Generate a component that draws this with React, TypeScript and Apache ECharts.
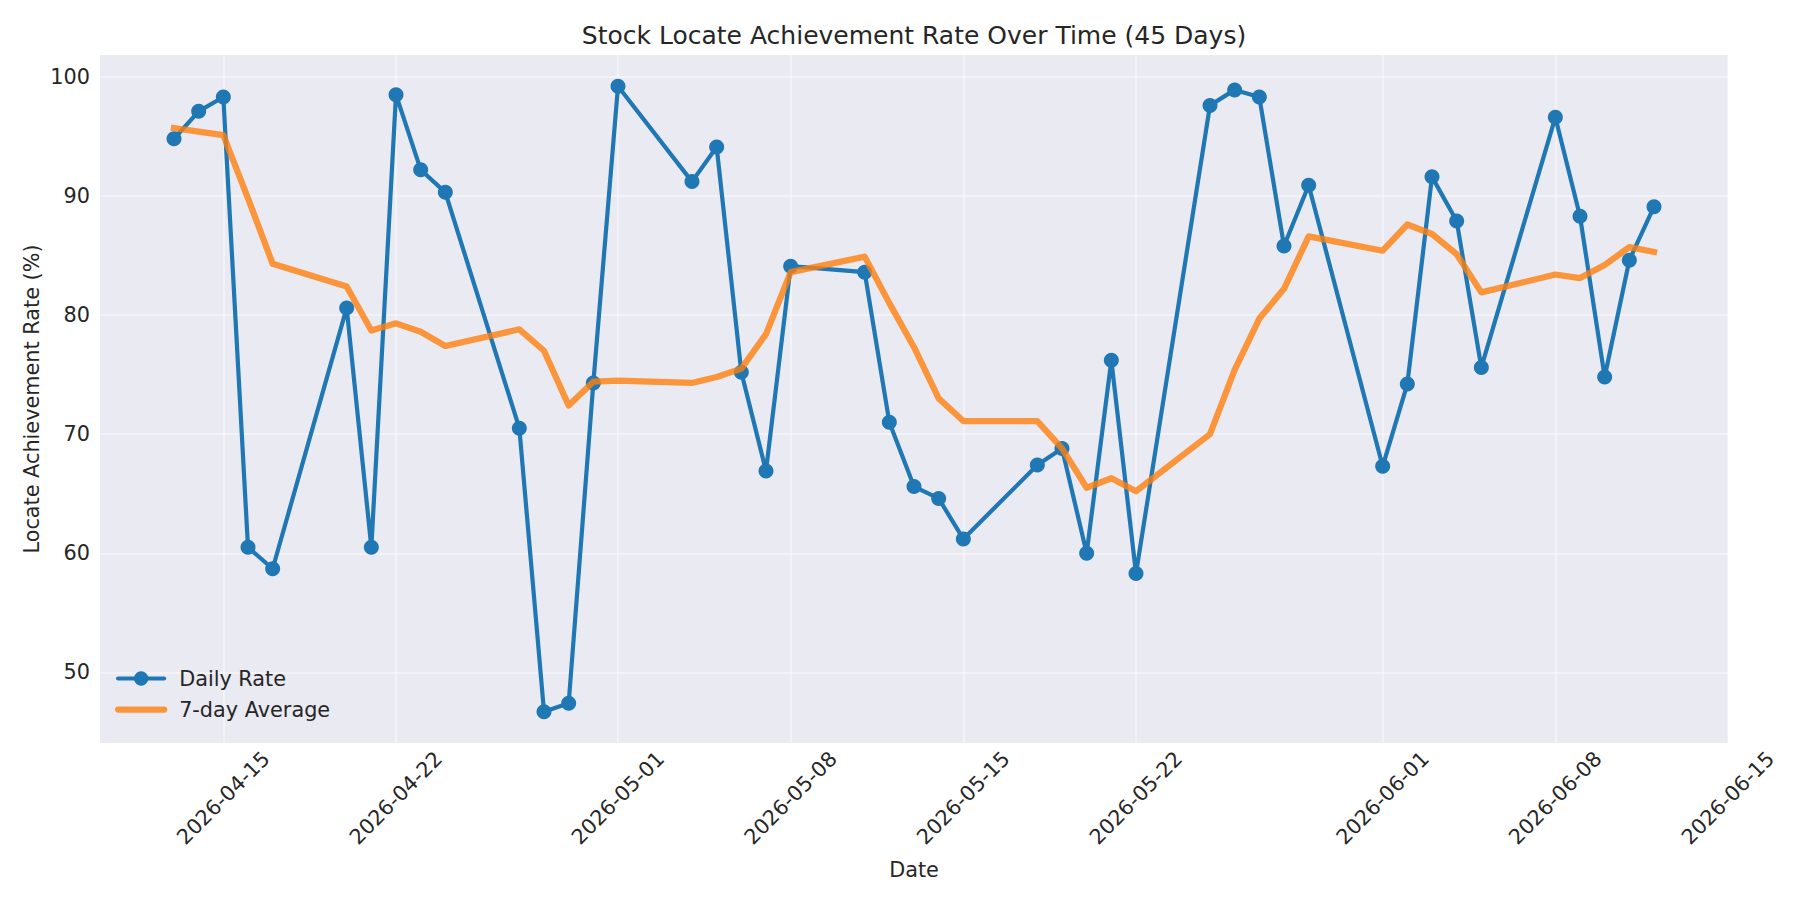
import React, { useEffect, useRef } from "react";
import * as echarts from "echarts";

// ---- data ----
const dates = [
  "2026-04-13", "2026-04-14", "2026-04-15", "2026-04-16", "2026-04-17",
  "2026-04-20", "2026-04-21", "2026-04-22", "2026-04-23", "2026-04-24",
  "2026-04-27", "2026-04-28", "2026-04-29", "2026-04-30", "2026-05-01",
  "2026-05-04", "2026-05-05", "2026-05-06", "2026-05-07", "2026-05-08",
  "2026-05-11", "2026-05-12", "2026-05-13", "2026-05-14", "2026-05-15",
  "2026-05-18", "2026-05-19", "2026-05-20", "2026-05-21", "2026-05-22",
  "2026-05-25", "2026-05-26", "2026-05-27", "2026-05-28", "2026-05-29",
  "2026-06-01", "2026-06-02", "2026-06-03", "2026-06-04", "2026-06-05",
  "2026-06-08", "2026-06-09", "2026-06-10", "2026-06-11", "2026-06-12",
];

const dailyRate = [
  94.8, 97.1, 98.3, 60.5, 58.7,
  80.6, 60.5, 98.5, 92.2, 90.3,
  70.5, 46.7, 47.4, 74.3, 99.2,
  91.2, 94.1, 75.2, 66.9, 84.1,
  83.6, 71.0, 65.6, 64.6, 61.2,
  67.4, 68.8, 60.0, 76.2, 58.3,
  97.6, 98.9, 98.3, 85.8, 90.9,
  67.3, 74.2, 91.6, 87.9, 75.6,
  96.6, 88.3, 74.8, 84.6, 89.1,
];

const sevenDayAvg = [
  95.7, 95.4, 95.1, 89.8, 84.3,
  82.4, 78.7, 79.3, 78.6, 77.4,
  78.8, 77.0, 72.4, 74.4, 74.5,
  74.3, 74.8, 75.5, 78.4, 83.6,
  84.9, 81.0, 77.3, 73.0, 71.1,
  71.1, 68.8, 65.5, 66.3, 65.2,
  70.0, 75.4, 79.7, 82.2, 86.6,
  85.4, 87.6, 86.8, 85.1, 81.9,
  83.4, 83.1, 84.2, 85.7, 85.3,
];

const xTickLabels = [
  "2026-04-15", "2026-04-22", "2026-05-01", "2026-05-08", "2026-05-15",
  "2026-05-22", "2026-06-01", "2026-06-08", "2026-06-15",
];
const yTickValues = [50, 60, 70, 80, 90, 100];
const xRange = ["2026-04-10", "2026-06-15"];
const yRange = [44.07, 101.83];

const titleText = "Stock Locate Achievement Rate Over Time (45 Days)";
const xAxisName = "Date";
const yAxisName = "Locate Achievement Rate (%)";
const seriesNames = ["Daily Rate", "7-day Average"];

const toTime = (s: string) => {
  const [y, m, d] = s.split("-").map(Number);
  return Date.UTC(y, m - 1, d);
};

export default function App() {
  const ref = useRef<HTMLDivElement>(null);

  useEffect(() => {
    document.body.style.margin = "0";
    const chart = echarts.init(ref.current!, null, { renderer: "svg" });
    const font = "'DejaVu Sans', sans-serif";
    const ink = "#262626";
    const blue = "#1f77b4";
    const orange = "#ff7f0e";
    const gridLeft = 100;
    const gridRight = 72;
    const gridTop = 55;
    const gridBottom = 157;
    const plotCx = (gridLeft + (1800 - gridRight)) / 2;
    const plotCy = (gridTop + (900 - gridBottom)) / 2;
    const gridLine = { color: "rgba(255,255,255,0.38)", width: 2 };
    const xTicks = xTickLabels.map(toTime);

    chart.setOption({
      animation: false,
      backgroundColor: "#ffffff",
      textStyle: { fontFamily: font },
      grid: {
        left: gridLeft,
        right: gridRight,
        top: gridTop,
        bottom: gridBottom,
        show: true,
        backgroundColor: "#EAEAF2",
        borderWidth: 0,
        containLabel: false,
        outerBoundsMode: "none",
      },
      xAxis: {
        type: "value",
        min: toTime(xRange[0]),
        max: toTime(xRange[1]),
        axisLine: { show: false },
        axisTick: { show: false, customValues: xTicks },
        axisLabel: {
          customValues: xTicks,
          formatter: (v: number) => new Date(v).toISOString().slice(0, 10),
          rotate: 45,
          align: "center",
          verticalAlign: "middle",
          margin: 55,
          fontFamily: font,
          fontSize: 20.8,
          color: ink,
          hideOverlap: false,
        },
        splitLine: { show: true, lineStyle: gridLine },
      },
      yAxis: {
        type: "value",
        min: yRange[0],
        max: yRange[1],
        axisLine: { show: false },
        axisTick: { show: false, customValues: yTickValues },
        axisLabel: {
          customValues: yTickValues,
          margin: 10,
          fontFamily: font,
          fontSize: 20.8,
          color: ink,
        },
        splitLine: { show: true, lineStyle: gridLine },
      },
      legend: {
        orient: "vertical",
        left: 115,
        top: 668,
        padding: 0,
        itemWidth: 46,
        itemHeight: 18,
        itemGap: 10,
        data: [
          {
            name: seriesNames[0],
            itemStyle: { color: blue },
            lineStyle: { color: blue, width: 4.2, cap: "round" },
          },
          {
            name: seriesNames[1],
            itemStyle: { color: orange, opacity: 0 },
            lineStyle: { color: orange, width: 6.25, opacity: 0.8, cap: "round" },
          },
        ],
        textStyle: {
          fontFamily: font,
          fontSize: 20.8,
          color: ink,
          lineHeight: 21,
          padding: [0, 0, 0, 10],
        },
      },
      series: [
        {
          name: seriesNames[0],
          type: "line",
          data: dates.map((d, i) => [toTime(d), dailyRate[i]]),
          symbol: "circle",
          symbolSize: 15,
          showAllSymbol: true,
          itemStyle: { color: blue },
          lineStyle: { color: blue, width: 4.2, join: "round" },
          emphasis: { disabled: true },
          z: 2,
        },
        {
          name: seriesNames[1],
          type: "line",
          data: dates.map((d, i) => [toTime(d), sevenDayAvg[i]]),
          symbol: "none",
          showSymbol: false,
          itemStyle: { color: orange, opacity: 0.8 },
          lineStyle: { color: orange, width: 6.25, opacity: 0.8, join: "round", cap: "square" },
          emphasis: { disabled: true },
          z: 3,
        },
      ],
      graphic: [
        {
          type: "text",
          x: plotCx,
          y: 35,
          style: {
            text: titleText,
            font: `25px ${font}`,
            fill: ink,
            align: "center",
            verticalAlign: "middle",
          },
        },
        {
          type: "text",
          x: plotCx,
          y: 870,
          style: {
            text: xAxisName,
            font: `20.8px ${font}`,
            fill: ink,
            align: "center",
            verticalAlign: "middle",
          },
        },
        {
          type: "text",
          x: 32,
          y: plotCy,
          rotation: Math.PI / 2,
          style: {
            text: yAxisName,
            font: `20.8px ${font}`,
            fill: ink,
            align: "center",
            verticalAlign: "middle",
          },
        },
      ],
    });

    return () => chart.dispose();
  }, []);

  return <div ref={ref} style={{ width: 1800, height: 900 }} />;
}
